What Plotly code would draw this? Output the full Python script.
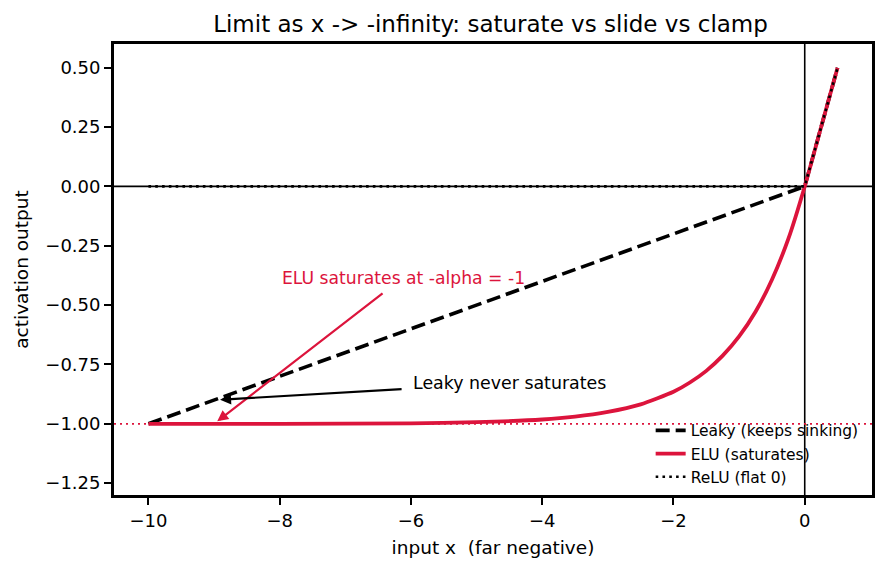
import plotly.graph_objects as go

# ---- data ----
leaky_x = [-10.0, 0.0, 0.5]
leaky_y = [-1.0, 0.0, 0.5]

elu_x = [-10.0, -8.0, -6.0, -5.0, -4.0, -3.5, -3.0, -2.5, -2.0, -1.75, -1.5,
         -1.25, -1.0, -0.75, -0.5, -0.25, 0.0, 0.25, 0.5]
elu_y = [-1.0, -1.0, -0.998, -0.993, -0.982, -0.97, -0.95, -0.918, -0.865,
         -0.826, -0.777, -0.713, -0.632, -0.528, -0.393, -0.221, 0.0, 0.25, 0.5]

relu_x = [-10.0, 0.0, 0.5]
relu_y = [0.0, 0.0, 0.5]

saturation_level = -1.0
x_ticks = [-10, -8, -6, -4, -2, 0]
x_tick_text = ["\u221210", "\u22128", "\u22126", "\u22124", "\u22122", "0"]
y_ticks = [0.5, 0.25, 0.0, -0.25, -0.5, -0.75, -1.0, -1.25]
y_tick_text = ["0.50", "0.25", "0.00", "\u22120.25", "\u22120.50", "\u22120.75",
               "\u22121.00", "\u22121.25"]

CRIMSON = "#DC143C"
FONT = "DejaVu Sans"

fig = go.Figure()

fig.add_trace(go.Scatter(x=leaky_x, y=leaky_y, mode="lines",
                         name="Leaky (keeps sinking)",
                         line=dict(color="black", width=3.6, dash="14px,6px")))
fig.add_trace(go.Scatter(x=elu_x, y=elu_y, mode="lines", name="ELU (saturates)",
                         line=dict(color=CRIMSON, width=3.8, shape="spline", smoothing=0.6)))
fig.add_trace(go.Scatter(x=relu_x, y=relu_y, mode="lines", name="ReLU (flat 0)",
                         line=dict(color="black", width=2.6, dash="2.6px,4.2px")))

# reference lines
fig.add_shape(type="line", xref="paper", yref="y", x0=0, x1=1, y0=0, y1=0,
              line=dict(color="black", width=1.6), layer="below")
fig.add_shape(type="line", xref="x", yref="paper", x0=0, x1=0, y0=0, y1=1,
              line=dict(color="black", width=1.6), layer="below")
fig.add_shape(type="line", xref="paper", yref="y", x0=0, x1=1,
              y0=saturation_level, y1=saturation_level,
              line=dict(color=CRIMSON, width=1.8, dash="2px,4px"), layer="below")

# annotations: arrows
fig.add_annotation(x=-9.0, y=-1.0, ax=-6.41, ay=-0.446, axref="x", ayref="y",
                   xref="x", yref="y", text="", showarrow=True,
                   arrowhead=2, arrowsize=1.0, arrowwidth=2.2, arrowcolor=CRIMSON,
                   standoff=4)
fig.add_annotation(x=-9.0, y=-0.9, ax=-6.12, ay=-0.854, axref="x", ayref="y",
                   xref="x", yref="y", text="", showarrow=True,
                   arrowhead=2, arrowsize=1.0, arrowwidth=2.2, arrowcolor="black",
                   standoff=6)
# annotations: text
fig.add_annotation(x=-8.0, y=-0.385, xref="x", yref="y", xanchor="left", yanchor="middle",
                   text="ELU saturates at -alpha = -1", showarrow=False,
                   font=dict(family=FONT, size=17.2, color=CRIMSON))
fig.add_annotation(x=-6.0, y=-0.83, xref="x", yref="y", xanchor="left", yanchor="middle",
                   text="Leaky never saturates", showarrow=False,
                   font=dict(family=FONT, size=17.4, color="black"))

fig.update_layout(
    width=887, height=569,
    margin=dict(l=114, r=13, t=44, b=74),
    paper_bgcolor="white", plot_bgcolor="white",
    font=dict(family=FONT, size=18, color="black"),
    title=dict(text="Limit as x -> -infinity: saturate vs slide vs clamp",
               x=0.553, xanchor="center", y=0.958, yanchor="middle",
               font=dict(family=FONT, size=23, color="black")),
    legend=dict(x=0.708, xanchor="left", y=0.18, yanchor="top",
                bgcolor="rgba(0,0,0,0)", borderwidth=0,
                font=dict(family=FONT, size=15.5, color="black"),
                itemwidth=30, tracegroupgap=0),
    showlegend=True,
)

fig.update_xaxes(range=[-10.525, 1.025], tickvals=x_ticks, ticktext=x_tick_text,
                 showgrid=False, zeroline=False, showline=True, mirror=True,
                 linecolor="black", linewidth=2.8, ticks="outside", ticklen=7,
                 tickwidth=1.5, tickcolor="black",
                 tickfont=dict(family=FONT, size=18),
                 title=dict(text="input x\u00a0\u00a0(far negative)", standoff=12,
                            font=dict(family=FONT, size=18.5)))
fig.update_yaxes(range=[-1.3, 0.6], tickvals=y_ticks, ticktext=y_tick_text,
                 showgrid=False, zeroline=False, showline=True, mirror=True,
                 linecolor="black", linewidth=2.8, ticks="outside", ticklen=7,
                 tickwidth=1.5, tickcolor="black",
                 tickfont=dict(family=FONT, size=18),
                 title=dict(text="activation output", standoff=12,
                            font=dict(family=FONT, size=18.5)))

fig.write_html("out.html")
